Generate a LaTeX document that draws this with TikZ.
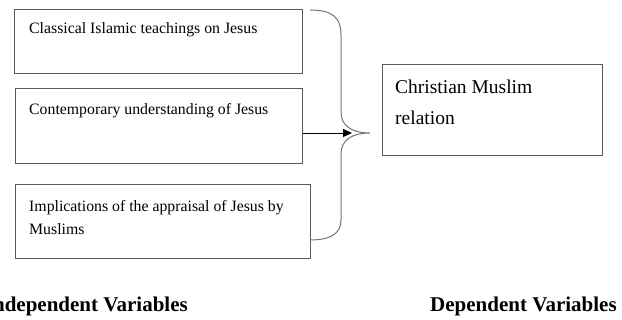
\documentclass[tikz,border=0pt]{standalone}
\usepackage{fontspec}
\setmainfont{Liberation Serif}
\usetikzlibrary{arrows.meta}
\begin{document}
\begin{tikzpicture}[x=1pt,y=-1pt,
  vbox/.style={draw=black!65,line width=1.1pt,inner sep=0pt,anchor=north west},
  btext/.style={anchor=base west,inner sep=0pt,font=\fontsize{15.8}{17}\selectfont,align=left},
  head/.style={inner sep=0pt,font=\fontsize{21}{24}\selectfont\bfseries},
  brace/.style={draw=black!55,line width=1pt}]
\useasboundingbox (0,0) rectangle (622,320);
\node[vbox,minimum width=288pt,minimum height=64pt] (b1) at (14,9) {};
\node[vbox,minimum width=287pt,minimum height=75pt] (b2) at (15,88) {};
\node[vbox,minimum width=295pt,minimum height=74pt] (b3) at (15,184) {};
\node[vbox,minimum width=220pt,minimum height=91pt] (b4) at (382,64) {};
\node[btext] (t1) at (29,34) {Classical Islamic teachings on Jesus};
\node[btext] (t2) at (29,115) {Contemporary understanding of Jesus};
\node[btext] (t3) at (29,235) {Implications of the appraisal of Jesus by\\[6pt]Muslims};
\node[btext,font=\fontsize{19.5}{21}\selectfont] (t4) at (395,125) {Christian Muslim\\[10pt]relation};
\node[head,anchor=base east] (h1) at (188,312) {Independent Variables};
\node[head,anchor=base west] (h2) at (430,312) {Dependent Variables};
\coordinate (bt) at (310,10);
\coordinate (bb) at (310,240);
\coordinate (btip) at (370,133);
\coordinate (atip) at (352,133);
\draw[brace] (bt) .. controls (333,10) and (341,18) .. (341,35)
  -- (341,112) .. controls (341,126) and (352,133) .. (btip)
  .. controls (352,133) and (341,140) .. (341,154)
  -- (341,220) .. controls (341,234) and (330,240) .. (bb);
\draw[line width=0.9pt,-{Triangle[length=9pt,width=8pt]}] (b2.east |- atip) -- (atip);
\end{tikzpicture}
\end{document}
